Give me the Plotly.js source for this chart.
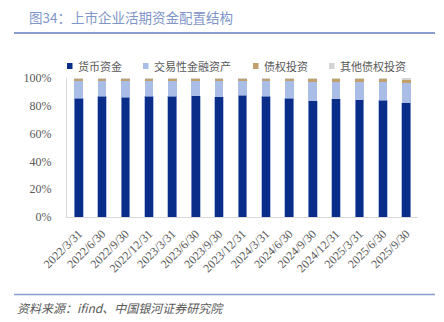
<!DOCTYPE html>
<html>
<head>
<meta charset="utf-8">
<script src="https://cdn.plot.ly/plotly-3.0.1.min.js"></script>
<style>html,body{margin:0;padding:0;background:#fff;}#chart{width:444px;height:322px;}</style>
</head>
<body>
<div id="chart"></div>
<script>
const categories = ["2022/3/31","2022/6/30","2022/9/30","2022/12/31","2023/3/31","2023/6/30","2023/9/30","2023/12/31","2024/3/31","2024/6/30","2024/9/30","2024/12/31","2025/3/31","2025/6/30","2025/9/30"];
const seriesNames = ["货币资金","交易性金融资产","债权投资","其他债权投资"];
const monetaryFunds = [85.5, 86.9, 86.1, 87.0, 86.9, 87.1, 86.4, 87.6, 86.7, 85.5, 83.5, 85.2, 84.5, 84.0, 82.3];
const tradingAssets = [12.5, 11.1, 11.9, 11.0, 11.1, 10.7, 11.4, 10.2, 11.1, 12.1, 13.6, 11.9, 12.6, 13.1, 14.3];
const debtInvest    = [1.2, 1.2, 1.2, 1.2, 1.2, 1.3, 1.3, 1.3, 1.4, 1.5, 2.0, 2.0, 2.0, 2.0, 2.3];
const otherDebt     = [0.8, 0.8, 0.8, 0.8, 0.8, 0.9, 0.9, 0.9, 0.8, 0.9, 0.9, 0.9, 0.9, 0.9, 1.1];
const yTickVals = [0, 20, 40, 60, 80, 100];
const yTickText = ["0%","20%","40%","60%","80%","100%"];
const colors = ["#0b2d8a","#a9bde6","#c2a06c","#d4d4d4"];
const seriesData = [monetaryFunds, tradingAssets, debtInvest, otherDebt];

const traces = seriesData.map((vals, i) => ({
  type: 'bar', name: seriesNames[i], x: categories, y: vals,
  marker: {color: colors[i], line: {color: i === 0 ? 'rgba(150,170,220,0.9)' : 'rgba(0,0,0,0)', width: i === 0 ? 0.8 : 0}},
  showlegend: false, hoverinfo: 'none'
}));

const legendX = [67, 143, 253, 329];
const legendY = 66;
const W = 444, H = 322;
const shapes = [
  {type:'line', xref:'paper', yref:'paper', x0:(14-67)/351, x1:(435-67)/351, y0:(217-33)/139, y1:(217-33)/139, line:{color:'#8a9dcf', width:2}},
  {type:'line', xref:'paper', yref:'paper', x0:(14-67)/351, x1:(435-67)/351, y0:(217-294.5)/139, y1:(217-294.5)/139, line:{color:'#8a9dcf', width:1.5}}
];
const annotations = [
  {text:'图34：上市企业活期资金配置结构', xref:'paper', yref:'paper', x:(27-67)/351, y:(217-17)/139, xanchor:'left', yanchor:'middle', showarrow:false, font:{family:'Noto Sans CJK SC', size:13.5, color:'#8095c8'}},
  {text:'<i>资料来源：ifind、中国银河证券研究院</i>', xref:'paper', yref:'paper', x:(15-67)/351, y:(217-307)/139, xanchor:'left', yanchor:'middle', showarrow:false, font:{family:'Noto Sans CJK SC', size:12, color:'#595959'}}
];
seriesNames.forEach((n, i) => {
  const x0 = legendX[i];
  shapes.push({type:'rect', xref:'paper', yref:'paper', x0:(x0-67)/351, x1:(x0+5.5-67)/351, y0:(217-(legendY+3))/139, y1:(217-(legendY-3))/139, fillcolor:colors[i], line:{width:0}});
  annotations.push({text:n, xref:'paper', yref:'paper', x:(x0+9-67)/351, y:(217-legendY)/139, xanchor:'left', yanchor:'middle', showarrow:false, font:{family:'Noto Sans CJK SC', size:11, color:'#595959'}});
});

const layout = {
  width: W, height: H,
  margin: {l:67, r:26, t:78, b:105, pad:0},
  barmode: 'stack', bargap: 0.63,
  paper_bgcolor:'#fff', plot_bgcolor:'#fff',
  showlegend:false,
  xaxis: {type:'category', tickangle:-45, ticklabelstandoff:4, tickfont:{family:'Liberation Serif', size:12, color:'#595959'}, showline:true, linecolor:'#d9d9d9', linewidth:1, ticks:'', showgrid:false, zeroline:false, fixedrange:true},
  yaxis: {range:[0,100], tickvals:yTickVals, ticktext:yTickText, ticklabelstandoff:12, tickfont:{family:'Liberation Serif', size:12, color:'#595959'}, showline:true, linecolor:'#d9d9d9', linewidth:1, ticks:'', ticklen:0, showgrid:false, zeroline:false, fixedrange:true},
  shapes: shapes, annotations: annotations
};
Plotly.newPlot('chart', traces, layout, {staticPlot:true, displayModeBar:false});
</script>
</body>
</html>
